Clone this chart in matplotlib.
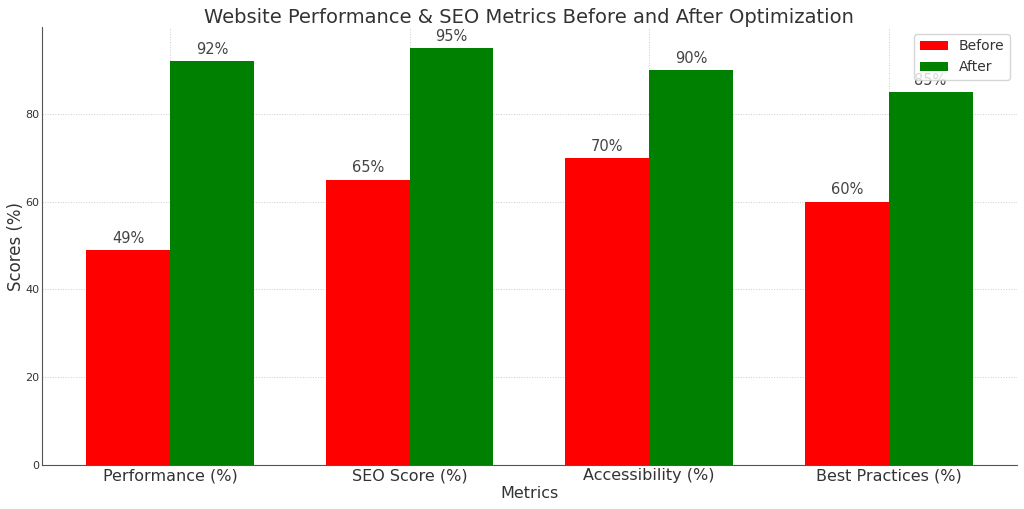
import numpy as np
import matplotlib.pyplot as plt

metrics = ["Performance (%)", "SEO Score (%)", "Accessibility (%)", "Best Practices (%)"]
before = [49, 65, 70, 60]
after = [92, 95, 90, 85]

text_color = "#333333"
plt.rcParams["text.color"] = text_color
plt.rcParams["axes.labelcolor"] = text_color
plt.rcParams["xtick.color"] = text_color
plt.rcParams["ytick.color"] = text_color

x = np.arange(len(metrics))
width = 0.35

fig, ax = plt.subplots(figsize=(10.24, 5.09), dpi=100)
bars1 = ax.bar(x - width / 2, before, width, label="Before", color="red")
bars2 = ax.bar(x + width / 2, after, width, label="After", color="green")

for bars in (bars1, bars2):
    for b in bars:
        h = b.get_height()
        ax.annotate(f"{h}%", xy=(b.get_x() + b.get_width() / 2, h),
                    xytext=(0, 3), textcoords="offset points",
                    ha="center", va="bottom", fontsize=10.5, color="#444444")

ax.set_title("Website Performance & SEO Metrics Before and After Optimization", fontsize=14, pad=2)
ax.set_xlabel("Metrics", fontsize=11.5, labelpad=2)
ax.set_ylabel("Scores (%)", fontsize=12, labelpad=0)
ax.set_xticks(x)
ax.set_xticklabels(metrics, fontsize=11.5)
ax.tick_params(axis="y", labelsize=8, length=0, pad=2)
ax.tick_params(axis="x", length=0, pad=2)

ax.grid(True, linestyle=":", color="#cccccc", linewidth=0.7)
ax.set_axisbelow(True)
for s in ("top", "right"):
    ax.spines[s].set_visible(False)
for s in ("left", "bottom"):
    ax.spines[s].set_color("#555555")

ax.legend(fontsize=10, loc="upper right")
plt.subplots_adjust(left=0.041, right=0.993, top=0.947, bottom=0.086)
plt.savefig("out.png", dpi=100)
